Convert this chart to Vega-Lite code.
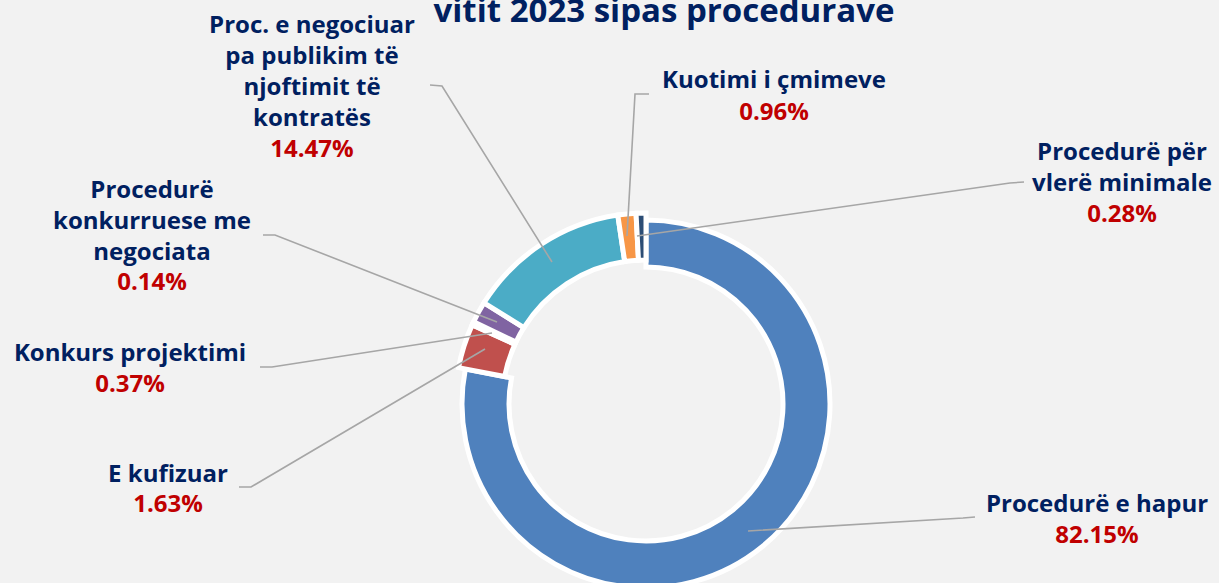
{
  "$schema": "https://vega.github.io/schema/vega-lite/v6.json",
  "width": 1292,
  "height": 808,
  "autosize": {"type": "none"},
  "padding": 0,
  "background": "#f2f2f2",
  "title": {
    "text": "vitit 2023 sipas procedurave",
    "anchor": "middle",
    "frame": "group",
    "dx": 18,
    "offset": -20,
    "dy": 35,
    "baseline": "alphabetic",
    "font": "Open Sans",
    "fontWeight": "bold",
    "fontSize": 33,
    "color": "#002060"
  },
  "config": {"view": {"stroke": null}},
  "datasets": {
    "slices": [
      {"order": 1, "name": "Procedurë e hapur", "value": 78.05},
      {"order": 2, "name": "E kufizuar", "value": 3.75},
      {"order": 3, "name": "Konkurs projektimi", "value": 0.28},
      {"order": 4, "name": "Procedurë konkurruese me negociata", "value": 1.81},
      {"order": 5, "name": "Proc. e negociuar pa publikim të njoftimit të kontratës", "value": 13.75},
      {"order": 6, "name": "Kuotimi i çmimeve", "value": 1.53},
      {"order": 7, "name": "Procedurë për vlerë minimale", "value": 0.83}
    ],
    "labels": [
      {"lines": ["Proc. e negociuar", "pa publikim të", "njoftimit të", "kontratës"], "pct": "14.47%", "lx": -334, "ny": 371, "py": 247},
      {"lines": ["Procedurë", "konkurruese me", "negociata"], "pct": "0.14%", "lx": -494, "ny": 206, "py": 114},
      {"lines": ["Konkurs projektimi"], "pct": "0.37%", "lx": -516, "ny": 43, "py": 12},
      {"lines": ["E kufizuar"], "pct": "1.63%", "lx": -478, "ny": -78, "py": -108},
      {"lines": ["Kuotimi i çmimeve"], "pct": "0.96%", "lx": 128, "ny": 316, "py": 284},
      {"lines": ["Procedurë për", "vlerë minimale"], "pct": "0.28%", "lx": 476, "ny": 244, "py": 182},
      {"lines": ["Procedurë e hapur"], "pct": "82.15%", "lx": 451, "ny": -108, "py": -139}
    ],
    "leaders": [
      {"id": "A", "seq": 1, "lx": -216, "ly": 319}, {"id": "A", "seq": 2, "lx": -204, "ly": 318}, {"id": "A", "seq": 3, "lx": -94, "ly": 142},
      {"id": "B", "seq": 1, "lx": -383, "ly": 169}, {"id": "B", "seq": 2, "lx": -371, "ly": 169}, {"id": "B", "seq": 3, "lx": -149, "ly": 82},
      {"id": "C", "seq": 1, "lx": -386, "ly": 37}, {"id": "C", "seq": 2, "lx": -374, "ly": 37}, {"id": "C", "seq": 3, "lx": -154, "ly": 71},
      {"id": "D", "seq": 1, "lx": -407, "ly": -83}, {"id": "D", "seq": 2, "lx": -395, "ly": -83}, {"id": "D", "seq": 3, "lx": -161, "ly": 55},
      {"id": "E", "seq": 1, "lx": 3, "ly": 310}, {"id": "E", "seq": 2, "lx": -11, "ly": 310}, {"id": "E", "seq": 3, "lx": -19, "ly": 168},
      {"id": "F", "seq": 1, "lx": 378, "ly": 222}, {"id": "F", "seq": 2, "lx": 364, "ly": 221}, {"id": "F", "seq": 3, "lx": -9, "ly": 168},
      {"id": "G", "seq": 1, "lx": 329, "ly": -113}, {"id": "G", "seq": 2, "lx": 317, "ly": -114}, {"id": "G", "seq": 3, "lx": 102, "ly": -127}
    ]
  },
  "layer": [
    {
      "data": {"name": "slices"},
      "transform": [
        {"stack": "value", "groupby": [], "sort": [{"field": "order", "order": "ascending"}], "as": ["v0", "v1"]},
        {"filter": "datum.order == 1"}
      ],
      "mark": {"type": "arc", "radius": 184, "radius2": 137, "stroke": "white", "strokeWidth": 5},
      "encoding": {
        "theta": {"field": "v0", "type": "quantitative", "scale": {"domain": [0, 100]}},
        "theta2": {"field": "v1"},
        "color": {"field": "name", "type": "nominal", "legend": null,
          "scale": {"domain": ["Procedurë e hapur", "E kufizuar", "Konkurs projektimi", "Procedurë konkurruese me negociata", "Proc. e negociuar pa publikim të njoftimit të kontratës", "Kuotimi i çmimeve", "Procedurë për vlerë minimale"],
                    "range": ["#4f81bd", "#c0504d", "#9bbb59", "#8064a2", "#4bacc6", "#f79646", "#2c4d75"]}}
      }
    },
    {
      "data": {"name": "slices"},
      "transform": [
        {"stack": "value", "groupby": [], "sort": [{"field": "order", "order": "ascending"}], "as": ["v0", "v1"]},
        {"filter": "datum.order != 1"}
      ],
      "mark": {"type": "arc", "radius": 191, "radius2": 144, "stroke": "white", "strokeWidth": 5},
      "encoding": {
        "theta": {"field": "v0", "type": "quantitative", "scale": {"domain": [0, 100]}},
        "theta2": {"field": "v1"},
        "color": {"field": "name", "type": "nominal", "legend": null}
      }
    },
    {
      "data": {"name": "leaders"},
      "mark": {"type": "line", "color": "#a6a6a6", "strokeWidth": 1.6},
      "encoding": {
        "x": {"field": "lx", "type": "quantitative", "axis": null, "scale": {"domain": [-646, 646], "nice": false, "zero": false}},
        "y": {"field": "ly", "type": "quantitative", "axis": null, "scale": {"domain": [-404, 404], "nice": false, "zero": false}},
        "detail": {"field": "id", "type": "nominal"},
        "order": {"field": "seq", "type": "quantitative"}
      }
    },
    {
      "data": {"name": "labels"},
      "mark": {"type": "text", "align": "center", "baseline": "alphabetic", "font": "Open Sans", "fontWeight": "bold", "fontSize": 24, "lineHeight": 31, "color": "#002060"},
      "encoding": {
        "x": {"field": "lx", "type": "quantitative"},
        "y": {"field": "ny", "type": "quantitative"},
        "text": {"field": "lines", "type": "nominal"}
      }
    },
    {
      "data": {"name": "labels"},
      "mark": {"type": "text", "align": "center", "baseline": "alphabetic", "font": "Open Sans", "fontWeight": "bold", "fontSize": 24, "color": "#c00000"},
      "encoding": {
        "x": {"field": "lx", "type": "quantitative"},
        "y": {"field": "py", "type": "quantitative"},
        "text": {"field": "pct", "type": "nominal"}
      }
    }
  ]
}
